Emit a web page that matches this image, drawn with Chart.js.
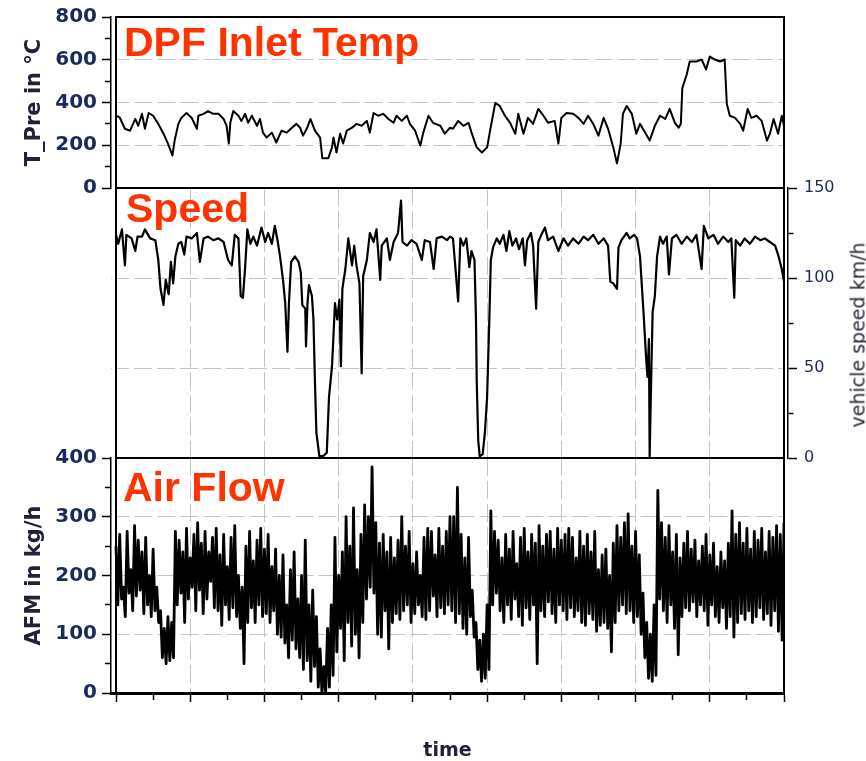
<!DOCTYPE html>
<html>
<head>
<meta charset="utf-8">
<script src="https://cdn.jsdelivr.net/npm/chart.js@4.4.1/dist/chart.umd.min.js"></script>
<style>
html,body{margin:0;padding:0;background:#fff;}
#wrap{position:relative;width:866px;height:761px;overflow:hidden;background:#fff;}
#wrap canvas{position:absolute;left:0;top:0;width:866px;height:761px;}
.lbl{position:absolute;font-family:"Liberation Sans",Arial,sans-serif;font-weight:bold;font-size:41px;line-height:41px;color:#ff3300;white-space:nowrap;}
#speedTitle{position:absolute;left:858px;top:335px;transform:translate(-50%,-50%) rotate(-90deg);font-family:"DejaVu Sans",sans-serif;font-size:19px;line-height:19px;color:#262636;white-space:nowrap;}
</style>
</head>
<body>
<div id="wrap">
<canvas id="c1" width="866" height="761"></canvas>
<canvas id="c2" width="866" height="761"></canvas>
<canvas id="c3" width="866" height="761"></canvas>
<div class="lbl" style="left:124px;top:22px">DPF Inlet Temp</div>
<div class="lbl" style="left:126px;top:188px">Speed</div>
<div class="lbl" style="left:123px;top:467px">Air Flow</div>
<div id="speedTitle">vehicle speed km/h</div>
</div>
<script>
// ---------------- DATA ----------------
const tempTime = [0,5,12,19,26,30,35,39,44,50,57,64,70,76,79,84,88,95,102,109,111,118,124,131,138,145,149,152,154,158,165,169,174,178,183,190,194,198,203,210,216,223,230,237,243,248,252,257,262,268,275,278,286,291,293,297,302,306,311,318,324,331,338,342,347,353,360,367,374,378,385,392,396,403,410,414,421,427,437,443,450,454,461,468,475,479,486,493,500,504,511,517,524,531,538,542,549,555,562,569,576,582,591,596,600,607,616,623,630,636,643,650,657,663,670,675,680,683,688,695,701,706,713,719,726,733,740,746,753,758,761,763,769,773,782,789,795,800,807,814,820,823,827,834,841,845,851,856,863,870,877,881,886,892,897,900];
const tempValues = [338,330,277,268,323,291,347,277,351,338,300,254,208,152,222,300,328,351,328,277,338,347,360,347,347,323,291,208,305,360,338,314,347,305,338,291,323,259,236,259,213,268,259,282,300,282,245,277,323,268,236,139,139,190,236,166,254,208,268,282,300,291,314,259,351,338,347,323,305,338,314,338,300,268,199,259,338,305,291,254,282,277,314,291,305,259,190,166,190,268,398,384,338,305,254,347,254,328,300,370,338,305,314,208,328,351,347,328,300,338,300,245,328,277,190,115,208,347,384,347,254,300,259,222,291,338,323,370,305,282,300,467,532,592,592,601,555,615,601,592,601,393,338,328,300,268,370,328,338,314,222,254,323,254,338,291];

const speedTime = [0,3,8,12,14,21,26,29,35,39,46,53,57,60,64,67,71,74,77,80,84,88,92,95,102,109,113,118,124,131,138,145,151,156,160,165,168,171,174,177,181,185,190,196,201,205,210,214,218,221,225,228,231,233,236,241,246,249,251,255,256,258,260,264,266,268,270,274,279,284,287,291,293,295,298,301,303,305,309,313,318,321,324,328,331,333,338,342,347,351,356,358,365,369,374,380,384,386,392,398,405,412,416,423,428,432,439,446,450,454,461,464,468,472,476,479,483,485,486,488,490,494,497,500,503,505,508,513,517,522,526,530,534,539,543,548,551,554,559,562,566,569,573,578,582,589,596,603,609,616,623,630,636,643,650,657,663,666,670,675,677,681,688,692,698,702,706,711,714,716,718,719,721,723,726,729,733,737,742,745,749,755,762,769,776,782,789,792,798,805,811,818,825,829,833,835,841,847,854,861,868,874,881,888,892,897,900];
const speedValues = [124,119,127,107,124,122,115,123,123,127,122,121,110,94,85,99,91,109,97,112,119,120,113,123,122,125,109,122,123,121,122,120,110,107,124,122,90,89,106,127,119,123,118,128,120,125,119,129,120,112,99,86,59,86,109,112,109,103,85,83,62,86,96,90,77,43,14,1,1,3,34,51,68,86,77,88,51,94,105,122,107,118,107,97,47,101,110,125,120,127,99,118,122,110,120,125,143,120,118,121,119,110,121,120,105,122,123,121,123,122,87,122,118,122,106,115,110,77,43,10,1,2,14,34,77,110,117,122,119,124,115,126,118,122,116,122,107,121,125,118,83,120,124,128,121,123,115,122,118,122,119,123,121,124,119,122,118,98,97,94,117,121,125,122,124,122,112,79,57,45,66,1,43,81,90,112,123,119,123,102,122,124,119,123,120,124,105,129,122,124,119,123,120,122,89,121,118,122,119,123,121,122,120,118,113,105,98];

const afmStep = 2.5; // time units between air-flow samples
const afmValues = [
250,150,270,160,180,130,275,170,210,140,285,165,260,175,240,135,265,150,200,130,
245,140,180,120,140,60,110,50,130,55,120,60,275,150,260,170,240,120,280,160,
230,180,270,140,290,175,255,135,275,160,240,190,265,145,280,140,235,115,270,150,
215,125,265,145,285,130,200,110,180,50,250,120,275,145,225,120,260,150,280,130,
245,135,270,120,215,140,245,100,200,95,235,85,150,60,210,90,240,75,160,60,
200,40,260,55,150,20,175,45,130,10,75,0,45,0,110,10,150,30,265,70,
200,110,240,55,300,120,250,80,315,100,210,60,270,120,320,160,300,180,385,170,
290,100,255,95,270,140,240,75,265,120,230,135,260,125,300,140,250,150,275,120,
220,135,240,150,200,130,265,125,280,140,275,165,235,130,280,145,250,135,275,150,
300,140,300,120,350,135,270,110,230,100,265,130,175,95,120,40,90,20,100,25,
150,40,310,150,275,170,260,140,230,120,270,150,245,125,275,160,220,130,265,115,
280,145,240,125,270,150,255,50,285,140,250,130,270,155,275,135,245,120,280,150,
260,140,270,125,280,145,265,130,230,140,275,120,250,115,270,135,240,125,275,105,
210,115,235,120,245,110,200,70,255,120,285,140,265,150,290,135,305,140,250,120,
275,130,235,100,170,60,120,25,100,20,150,30,345,160,290,140,265,120,285,150,
240,110,270,65,230,130,255,145,275,140,245,155,260,130,225,150,250,140,270,115,
235,150,255,130,215,120,240,145,225,110,255,130,310,95,270,120,290,135,255,125,
280,140,245,120,275,130,260,145,280,125,240,135,275,115,265,140,285,105,270,90,
290];

const timeRange = [0, 900];
const tempLabels = [0,200,400,600,800];
const speedLabels = [0,50,100,150];
const afmLabels = [0,100,200,300,400];

// ---------------- STYLE ----------------
const GRID = '#c4c4c4';
const NONE = 'rgba(0,0,0,0)';
const TICK_COLOR = '#1b2a5c';
const TITLE_COLOR = '#20223a';
const DASH = [18, 5];
const PX_PER_T = 668 / 900;
const X_MIN = timeRange[0] - 5 / PX_PER_T;
const X_MAX_SPEED = timeRange[1] + 4 / PX_PER_T;

Chart.defaults.font.family = '"DejaVu Sans", sans-serif';
Chart.defaults.color = TICK_COLOR;

function pts(xs, ys) { return ys.map((y, i) => ({x: xs[i], y: y})); }
const afmTime = afmValues.map((_, i) => i * afmStep);

const framePlugin = {
  id: 'frame',
  beforeDatasetsDraw(chart) {
    const {ctx, chartArea: a, scales: {x}} = chart;
    const l = x.getPixelForValue(timeRange[0]);
    const r = x.getPixelForValue(timeRange[1]);
    ctx.save();
    ctx.clearRect(a.left + 1, a.top + 1, Math.max(l - a.left - 2, 0), a.bottom - a.top - 2);
    if (a.right > r + 2) ctx.clearRect(r + 1, a.top + 1, a.right - r - 2, a.bottom - a.top - 2);
    ctx.restore();
  },
  afterDatasetsDraw(chart) {
    const {ctx, chartArea: a, scales: {x}} = chart;
    const l = x.getPixelForValue(timeRange[0]);
    const r = x.getPixelForValue(timeRange[1]);
    ctx.save();
    ctx.strokeStyle = '#000';
    ctx.lineWidth = 2;
    ctx.strokeRect(l, a.top, r - l, a.bottom - a.top);
    ctx.restore();
  }
};

function xAxis(max, withTicks) {
  return {
    type: 'linear', min: X_MIN, max: max,
    afterFit: s => { s.height = withTicks ? 68 : 0; },
    ticks: { display: withTicks, stepSize: withTicks ? 50 : 100, includeBounds: false, autoSkip: false, maxRotation: 0, callback: () => '' },
    grid: {
      color: c => (c.tick && c.tick.value % 100 === 0 && c.tick.value > timeRange[0] && c.tick.value < timeRange[1]) ? GRID : NONE,
      lineWidth: 1, drawTicks: withTicks, tickLength: 9, tickColor: '#000', tickWidth: 1.5,
      borderDash: DASH,
      tickBorderDash: c => (c.tick && c.tick.value % 100 === 0) ? [] : [5, 100]
    },
    border: { display: withTicks, color: '#000', width: 3, dash: DASH },
    title: { display: withTicks, text: 'time', color: TITLE_COLOR, font: {family: '"DejaVu Sans", sans-serif', weight: 'bold', size: 19, lineHeight: 1}, padding: {top: 0, bottom: 0} }
  };
}

function leftAxis(max, step, labels, title) {
  return {
    position: 'left', min: 0, max: max,
    afterFit: s => { s.width = 111; },
    ticks: { stepSize: step, autoSkip: false, padding: 5, color: TICK_COLOR,
      font: {family: '"DejaVu Sans", sans-serif', weight: 'bold', size: 20},
      callback: v => labels.includes(v) ? String(v) : '' },
    grid: {
      color: c => (c.tick && labels.includes(c.tick.value) && c.tick.value > 0 && c.tick.value < max) ? GRID : NONE,
      lineWidth: 1, tickLength: 9, tickColor: '#000', tickWidth: 1.5, borderDash: DASH,
      tickBorderDash: c => (c.tick && labels.includes(c.tick.value)) ? [] : [0, 3, 6, 100]
    },
    border: { display: true, color: '#000', width: 1.5, dash: DASH },
    title: { display: true, text: title, color: TITLE_COLOR,
      font: {family: '"DejaVu Sans", sans-serif', weight: 'bold', size: 21}, padding: {top: 22, bottom: 0} }
  };
}

function baseOptions(padding, scales) {
  return {
    responsive: false, animation: false, devicePixelRatio: 1, events: [],
    layout: { padding: padding },
    plugins: { legend: {display: false}, tooltip: {enabled: false}, title: {display: false} },
    elements: { point: {radius: 0}, line: {tension: 0, borderJoinStyle: 'round'} },
    scales: scales
  };
}

// Panel 1: DPF inlet temperature
new Chart(document.getElementById('c1'), {
  type: 'line',
  data: { datasets: [{ data: pts(tempTime, tempValues), borderColor: '#000', borderWidth: 2, pointRadius: 0, fill: false }] },
  options: baseOptions({left: 0, right: 82, top: 15, bottom: 573}, {
    x: xAxis(timeRange[1], false),
    y: leftAxis(800, 100, tempLabels, 'T_Pre in \u00B0C')
  }),
  plugins: [framePlugin]
});

// Panel 2: vehicle speed
new Chart(document.getElementById('c2'), {
  type: 'line',
  data: { datasets: [{ data: pts(speedTime, speedValues), borderColor: '#000', borderWidth: 2.2, pointRadius: 0, fill: false }] },
  options: baseOptions({left: 111, right: 0, top: 188, bottom: 303}, {
    x: xAxis(X_MAX_SPEED, false),
    y: {
      position: 'right', min: 0, max: 150,
      afterFit: s => { s.width = 78; },
      ticks: { stepSize: 25, autoSkip: false, padding: 7, color: TICK_COLOR,
        font: {family: '"DejaVu Sans", sans-serif', size: 16},
        callback: v => speedLabels.includes(v) ? String(v) : '' },
      grid: {
        color: c => (c.tick && speedLabels.includes(c.tick.value) && c.tick.value > 0 && c.tick.value < 150) ? GRID : NONE,
        lineWidth: 1, tickLength: 9, tickColor: '#000', tickWidth: 1.5, borderDash: DASH,
        tickBorderDash: c => (c.tick && speedLabels.includes(c.tick.value)) ? [] : [5, 100]
      },
      border: { display: true, color: '#000', width: 1.5, dash: DASH }
    }
  }),
  plugins: [framePlugin]
});

// Panel 3: air flow
new Chart(document.getElementById('c3'), {
  type: 'line',
  data: { datasets: [{ data: pts(afmTime, afmValues), borderColor: '#000', borderWidth: 2.8, pointRadius: 0, fill: false }] },
  options: baseOptions({left: 0, right: 82, top: 458, bottom: 0}, {
    x: xAxis(timeRange[1], true),
    y: leftAxis(400, 50, afmLabels, 'AFM in kg/h')
  }),
  plugins: [framePlugin]
});
</script>
</body>
</html>
